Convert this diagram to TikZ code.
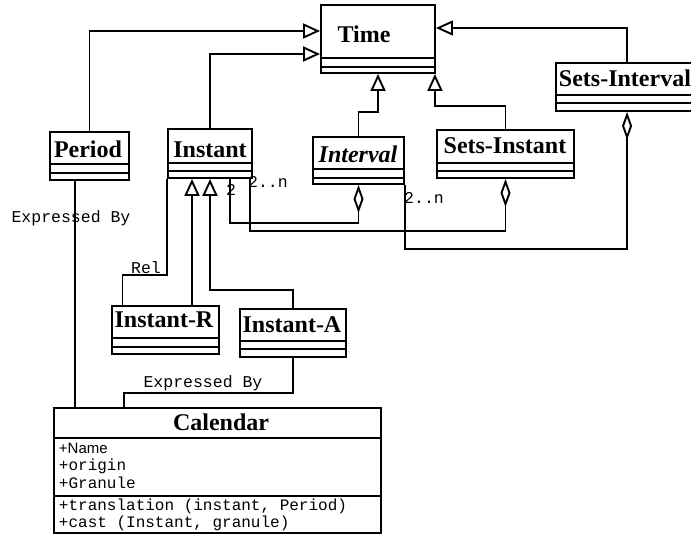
\documentclass[tikz,border=0pt]{standalone}
\usepackage{fontspec}
\setmainfont{Liberation Serif}
\setsansfont{Liberation Sans}
\setmonofont{Liberation Mono}
\usetikzlibrary{arrows.meta, fit}

\newcommand{\compartments}[3]% node, first line, second line (above the bottom)
    {\draw ([yshift=#2]#1.south west) -- ([yshift=#2]#1.south east);
     \draw ([yshift=#3]#1.south west) -- ([yshift=#3]#1.south east);
}

\begin{document}
\begin{tikzpicture}[
    x=1pt, y=-1pt, line width=1.9pt,
    cls/.style={draw, inner sep=0pt},
    cname/.style={anchor=base, inner sep=0pt, font=\fontsize{24}{28}\selectfont\bfseries},
    lbl/.style={anchor=base, inner sep=0pt, font=\fontsize{16.5}{18}\selectfont\ttfamily},
    inh/.style={-{Triangle[open, length=17pt, width=15pt]}},
    agg/.style={{Diamond[open, length=28pt, width=10pt]}-}
]
    \path[use as bounding box] (0,0) rectangle (691,535);
    \clip (0,0) rectangle (691,535);

    % Classes
    \node[cls, fit={(321,5) (435,73)}]    (time)     {};
    \node[cls, fit={(50,132) (129,180)}]  (period)   {};
    \node[cls, fit={(168,129) (252,178)}] (instant)  {};
    \node[cls, fit={(313,137) (404,184)}] (interval) {};
    \node[cls, fit={(437,130) (574,178)}] (setsinst) {};
    \node[cls, fit={(556,63) (720,111)}]  (setsintv) {};
    \node[cls, fit={(112,306) (219,354)}] (instr)    {};
    \node[cls, fit={(240,309) (346,357)}] (insta)    {};
    \node[cls, fit={(54,408) (381,533)}]  (calendar) {};

    \compartments{time}{16pt}{7pt}
    \compartments{period}{17pt}{8pt}
    \compartments{instant}{16pt}{8pt}
    \compartments{interval}{16pt}{7pt}
    \compartments{setsinst}{16pt}{8pt}
    \compartments{setsintv}{17pt}{9pt}
    \compartments{instr}{17pt}{8pt}
    \compartments{insta}{17pt}{9pt}
    \compartments{calendar}{96pt}{38pt}

    % Class names
    \node[cname] (timeName)     at (364,43)  {Time};
    \node[cname] (periodName)   at (88,157)  {Period};
    \node[cname] (instantName)  at (210,157) {Instant};
    \node[cname, font=\fontsize{24}{28}\selectfont\bfseries\itshape] (intervalName) at (358,162) {Interval};
    \node[cname] (setsinstName) at (505,153) {Sets-Instant};
    \node[cname, anchor=base west] (setsintvName) at (558,87) {Sets-Interval};
    \node[cname] (instrName)    at (164,327) {Instant-R};
    \node[cname] (instaName)    at (292,332) {Instant-A};
    \node[cname] (calendarName) at (221,430) {Calendar};

    % Calendar members (base = last line)
    \node[anchor=base west, inner sep=0pt, align=left,
          font=\fontsize{16}{17.5}\selectfont\ttfamily] (calAttr) at (58,488)
        {{\sffamily\fontsize{15}{17.5}\selectfont +Name}\\+origin\\+Granule};
    \node[anchor=base west, inner sep=0pt, align=left,
          font=\fontsize{16}{17}\selectfont\ttfamily] (calOps) at (58,527)
        {+translation (instant, Period)\\+cast (Instant, granule)};

    % Generalisations
    \draw[inh] (period.north) |- (time.west |- 0,31);
    \draw[inh] (instant.north) |- (time.west |- 0,54);
    \draw[inh] ([xshift=72pt]setsintv.north west) |- (time.east |- 0,28);
    \draw[inh] (interval.north) -- ++(0,-24) -| (time.south);
    \draw[inh] (setsinst.north) -- ++(0,-23) -| ([xshift=-1pt]time.south east);
    \draw[inh] (instr.north -| 192,0) -- (instant.south -| 192,0);
    \draw[inh] (insta.north) -- ++(0,-18) -| (instant.south);

    % Rel association
    \draw ([xshift=-43pt]instr.north) -- ++(0,-30) -| (instant.south west);
    \node[lbl] (lblRel) at (146,273) {Rel};

    % Aggregations
    \draw[agg] (interval.south) -- ++(0,38) -| ([xshift=-23pt]instant.south east);
    \draw[agg] (setsinst.south) -- ++(0,52) -| ([xshift=-3pt]instant.south east);
    \draw[agg] ([xshift=72pt]setsintv.south west) -- ++(0,137) -| (interval.south east);
    \node[lbl] (lblTwo)   at (231,195) {2};
    \node[lbl] (lblTwoN)  at (268,187) {2..n};
    \node[lbl] (lblTwoNb) at (424,203) {2..n};

    % Expressed By
    \draw (period.south -| 75,0) -- (calendar.north -| 75,0);
    \draw (insta.south) -- ++(0,35) -| ([xshift=71pt]calendar.north west);
    \node[lbl] (lblExprP) at (71,222)  {Expressed By};
    \node[lbl] (lblExprA) at (203,387) {Expressed By};

\end{tikzpicture}
\end{document}
